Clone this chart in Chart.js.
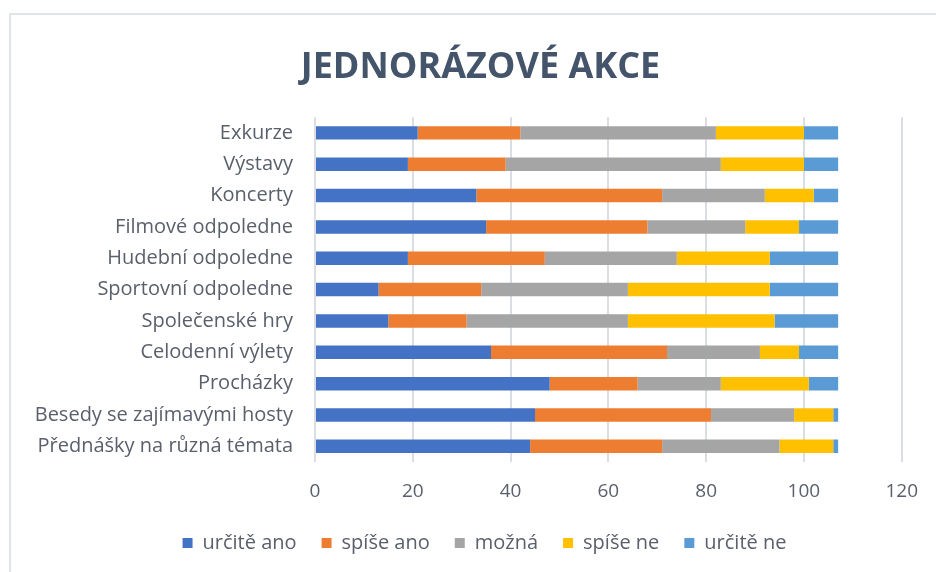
<!DOCTYPE html>
<html lang="cs">
<head>
  <meta charset="UTF-8" />
  <title>Jednorázové akce</title>
  <script src="https://cdn.jsdelivr.net/npm/chart.js"></script>
  <style>
    html, body { margin: 0; padding: 0; background: #fff; overflow: hidden; }
    #wrap { position: relative; width: 936px; height: 572px; }
    #frame {
      position: absolute; left: 9px; top: 13px; right: -10px; bottom: -10px;
      border-top: 2px solid #e1e4ea; border-left: 2px solid #e1e4ea;
    }
    canvas { position: absolute; left: 0; top: 0; }
  </style>
</head>
<body>
  <div id="wrap">
    <div id="frame"></div>
    <canvas id="graf" width="936" height="572"></canvas>
  </div>

  <script>
    // kategorie shora dolu
    const akce = [
      "Exkurze",
      "Výstavy",
      "Koncerty",
      "Filmové odpoledne",
      "Hudební odpoledne",
      "Sportovní odpoledne",
      "Společenské hry",
      "Celodenní výlety",
      "Procházky",
      "Besedy se zajímavými hosty",
      "Přednášky na různá témata",
    ];

    const urciteAno = [21, 19, 33, 35, 19, 13, 15, 36, 48, 45, 44];
    const spiseAno  = [21, 20, 38, 33, 28, 21, 16, 36, 18, 36, 27];
    const mozna     = [40, 44, 21, 20, 27, 30, 33, 19, 17, 17, 24];
    const spiseNe   = [18, 17, 10, 11, 19, 29, 30,  8, 18,  8, 11];
    const urciteNe  = [ 7,  7,  5,  8, 14, 14, 13,  8,  6,  1,  1];

    const osaX = [0, 20, 40, 60, 80, 100, 120];

    const sedaText = "#595f6b";
    const pismo = "'Open Sans', 'Noto Sans', sans-serif";

    // titulek a legenda jsou v originale posunute doprava
    const posun = {
      id: "posun",
      afterLayout(chart) {
        const t = chart.titleBlock;
        if (t) { t.left += 23; t.right += 23; }
        const l = chart.legend;
        if (l) { l.left += 27; l.right += 27; }
      },
    };

    const ctx = document.getElementById("graf").getContext("2d");

    new Chart(ctx, {
      type: "bar",
      data: {
        labels: akce,
        datasets: [
          { label: "určitě ano", data: urciteAno, backgroundColor: "#4472c4" },
          { label: "spíše ano", data: spiseAno, backgroundColor: "#ed7d31" },
          { label: "možná", data: mozna, backgroundColor: "#a5a5a5" },
          { label: "spíše ne", data: spiseNe, backgroundColor: "#ffc000" },
          { label: "určitě ne", data: urciteNe, backgroundColor: "#5b9bd5" },
        ],
      },
      options: {
        indexAxis: "y",
        responsive: false,
        animation: false,
        layout: { padding: { left: 12, right: 33, top: 46, bottom: 9 } },
        datasets: {
          bar: { categoryPercentage: 0.43, barPercentage: 1, borderWidth: 0 },
        },
        scales: {
          x: {
            stacked: true,
            min: osaX[0],
            max: osaX[osaX.length - 1],
            afterBuildTicks: (s) => { s.ticks = osaX.map((v) => ({ value: v })); },
            grid: { color: "#dadde3", lineWidth: 2, drawTicks: false },
            border: { display: false },
            ticks: { color: sedaText, font: { family: pismo, size: 19 }, padding: 18 },
            afterFit: (s) => { s.height = 46; },
          },
          y: {
            stacked: true,
            grid: { display: false, drawTicks: false },
            border: { display: false },
            ticks: { color: sedaText, font: { family: pismo, size: 20 }, padding: 22 },
            afterFit: (s) => { s.width = 303; },
          },
        },
        plugins: {
          title: {
            display: true,
            text: "JEDNORÁZOVÉ AKCE",
            color: "#44546a",
            font: { family: pismo, size: 36, weight: "bold" },
            padding: { top: 0, bottom: 28 },
          },
          legend: {
            position: "bottom",
            labels: {
              color: sedaText,
              font: { family: pismo, size: 20 },
              boxWidth: 10,
              boxHeight: 10,
              padding: 25,
            },
          },
          tooltip: { enabled: false },
        },
      },
      plugins: [posun],
    });
  </script>
</body>
</html>
